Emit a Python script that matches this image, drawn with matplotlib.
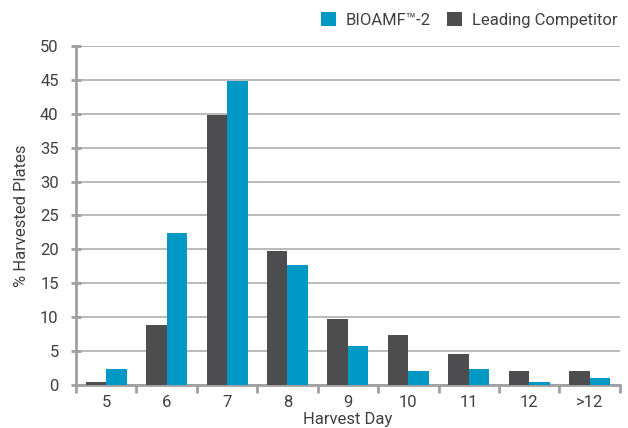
import matplotlib.pyplot as plt
import numpy as np

days = ["5", "6", "7", "8", "9", "10", "11", "12", ">12"]
competitor = [0.5, 8.9, 39.8, 19.8, 9.8, 7.3, 4.5, 2.1, 2.0]
bioamf = [2.4, 22.4, 44.8, 17.7, 5.7, 2.0, 2.4, 0.5, 1.1]

plt.rcParams['font.family'] = ['Roboto', 'DejaVu Sans']
txt = '#404040'
axis_col = '#a0a0a2'

fig = plt.figure(figsize=(6.28, 4.28), dpi=100)
ax = fig.add_axes([0.121, 0.1005, 0.866, 0.792])

x = np.arange(len(days))
w = 0.34
ax.bar(x - w / 2, competitor, w, color='#4d4d4f', label='Leading Competitor', zorder=3)
ax.bar(x + w / 2, bioamf, w, color='#0099c6', label='BIOAMF\u2122-2', zorder=3)

ax.set_xlim(-0.5, len(days) - 0.5)
ax.set_ylim(0, 50)
ax.set_yticks(np.arange(0, 51, 5))
ax.yaxis.grid(True, color='#b4b4b6', linewidth=1.3, zorder=0)

ax.set_xticks(x)
ax.set_xticklabels(days)
ax.set_xticks(np.arange(-0.5, len(days), 1), minor=True)
ax.tick_params(axis='x', which='major', length=0, labelsize=12, labelcolor=txt, pad=7)
ax.tick_params(axis='x', which='minor', length=6, width=2, color=axis_col, direction='out')
ax.tick_params(axis='y', length=7, width=2, color=axis_col, direction='inout', labelsize=12, labelcolor=txt, pad=9)

for s in ['top', 'right']:
    ax.spines[s].set_visible(False)
for s in ['left', 'bottom']:
    ax.spines[s].set_color(axis_col)
    ax.spines[s].set_linewidth(2)

ax.set_xlabel('Harvest Day', fontsize=12, color=txt, labelpad=1.5)
ax.set_ylabel('% Harvested Plates', fontsize=12, color=txt, labelpad=8)

h, l = ax.get_legend_handles_labels()
ax.legend(h[::-1], l[::-1], loc='lower right', bbox_to_anchor=(1.015, 1.025), ncol=2, frameon=False,
          fontsize=12, labelcolor=txt, handlelength=0.9, handleheight=0.9, handletextpad=0.6,
          columnspacing=1.0, borderaxespad=0.2)

fig.savefig('out.png', dpi=100)
